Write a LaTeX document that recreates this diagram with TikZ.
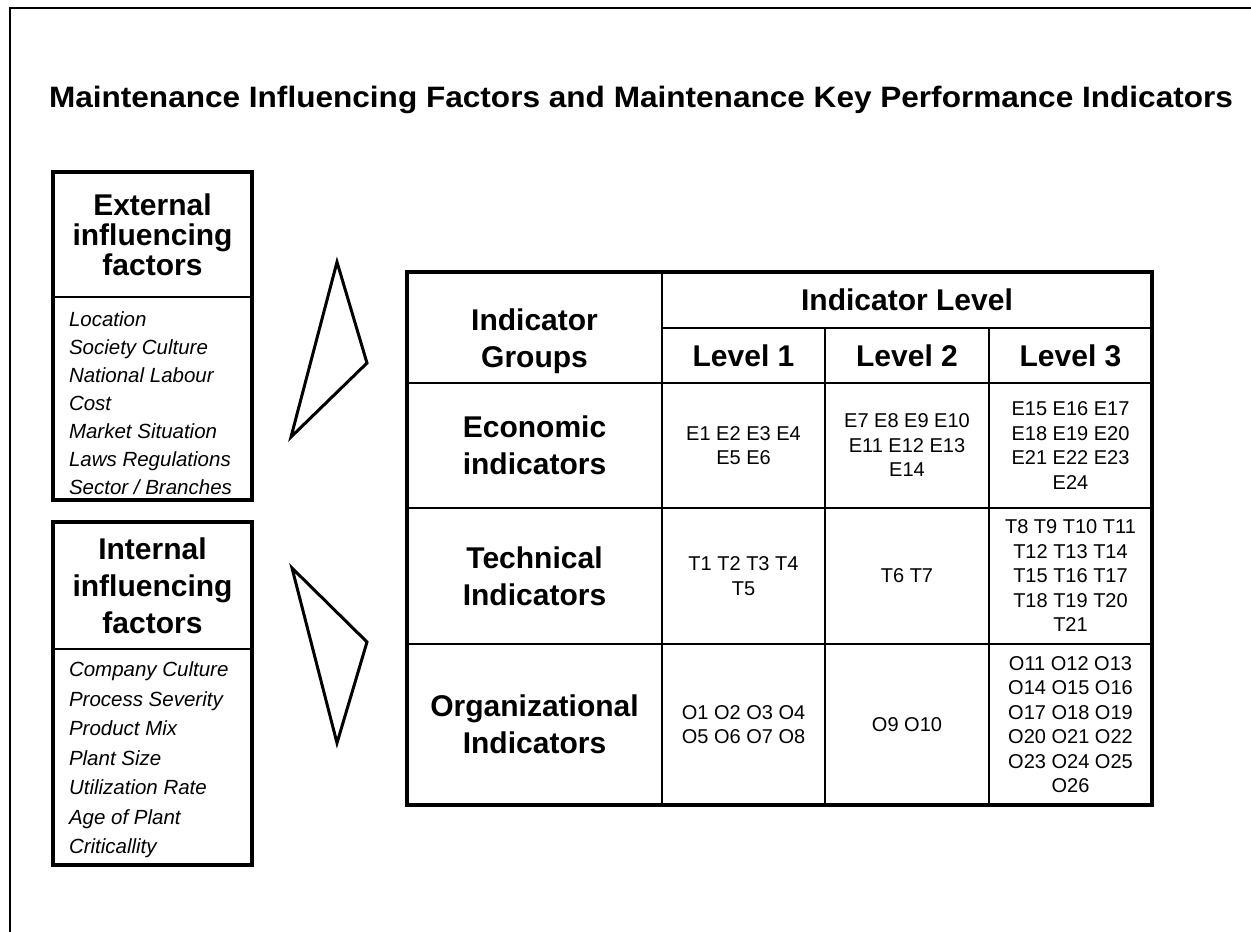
\documentclass[tikz,border=0pt]{standalone}
\usepackage{fontspec}
\setmainfont{Liberation Sans}
\usetikzlibrary{positioning}
\tikzset{every picture/.style={line width=2pt}}

\begin{document}
\begin{tikzpicture}[x=1pt, y=-1pt,
    cell/.style={draw, line width=1.8pt, inner sep=0pt, outer sep=0pt, align=center},
    bighead/.style={font=\bfseries\fontsize{30}{37}\selectfont},
    small/.style={font=\fontsize{20}{24.5}\selectfont},
    items/.style={inner sep=0pt, align=left}]
\useasboundingbox (0,0) rectangle (1251,932);

    % Frame and title
\draw[line width=1.5pt] (10,932) -- (10,8) -- (1251,8);
\node[anchor=base west, inner sep=0pt, font=\bfseries\fontsize{29.5}{30}\selectfont] (title) at (48,107) {\scalebox{1.07}[1]{Maintenance Influencing Factors and Maintenance Key Performance Indicators}};

    % External factors
\node[cell, anchor=north west, minimum width=199, minimum height=125, font=\bfseries\fontsize{30}{30}\selectfont] (exthead) at (53,172) {External\\influencing\\factors};
\node[items, anchor=north west, font=\itshape\fontsize{20.5}{28}\selectfont] (extlist) at (68,311) {Location\\Society Culture\\National Labour\\Cost\\Market Situation\\Laws Regulations\\Sector / Branches};
\coordinate (extend) at (252,500);
\draw[line width=4pt] (exthead.north west) rectangle (extend);

    % Internal factors
\node[cell, anchor=north west, minimum width=199, minimum height=127, bighead] (inthead) at (53,522) {Internal\\influencing\\factors};
\node[items, anchor=north west, font=\itshape\fontsize{20.5}{29.5}\selectfont] (intlist) at (68,661) {Company Culture\\Process Severity\\Product Mix\\Plant Size\\Utilization Rate\\Age of Plant\\Criticallity};
\coordinate (intend) at (252,865);
\draw[line width=4pt] (inthead.north west) rectangle (intend);

    % Triangles
\draw[line width=3pt, line join=miter] (337,262) -- (367,363) -- (291,437) -- cycle;
\draw[line width=3pt, line join=miter] (292,568) -- (367,642) -- (337,743) -- cycle;

    % Table header
\node[cell, anchor=north west, minimum width=255, minimum height=111] (groups) at (407,272) {};
\node[bighead, align=center, yshift=-14pt] (groupstext) at (groups.center) {Indicator\\Groups};
\node[cell, bighead, minimum width=490, minimum height=56, below right=0pt and 0pt of groups.north east] (level) {Indicator Level};
\node[cell, bighead, minimum width=163, minimum height=55, below right=0pt and 0pt of level.south west] (lv1) {Level 1};
\node[cell, bighead, minimum width=164, minimum height=55, right=0pt of lv1] (lv2) {Level 2};
\node[cell, bighead, minimum width=163, minimum height=55, right=0pt of lv2] (lv3) {Level 3};

    % Economic row
\node[cell, bighead, minimum width=255, minimum height=125, below=0pt of groups] (econ) {Economic\\indicators};
\node[cell, small, minimum width=163, minimum height=125, right=0pt of econ] (e1) {E1 E2 E3 E4\\E5 E6};
\node[cell, small, minimum width=164, minimum height=125, right=0pt of e1] (e2) {E7 E8 E9 E10\\E11 E12 E13\\E14};
\node[cell, small, minimum width=163, minimum height=125, right=0pt of e2] (e3) {E15 E16 E17\\E18 E19 E20\\E21 E22 E23\\E24};

    % Technical row
\node[cell, bighead, minimum width=255, minimum height=136, below=0pt of econ] (tech) {Technical\\Indicators};
\node[cell, small, minimum width=163, minimum height=136, right=0pt of tech] (t1) {T1 T2 T3 T4\\T5};
\node[cell, small, minimum width=164, minimum height=136, right=0pt of t1] (t2) {T6 T7};
\node[cell, small, minimum width=163, minimum height=136, right=0pt of t2] (t3) {T8 T9 T10 T11\\T12 T13 T14\\T15 T16 T17\\T18 T19 T20\\T21};

    % Organizational row
\node[cell, bighead, minimum width=255, minimum height=161, below=0pt of tech] (org) {Organizational\\Indicators};
\node[cell, small, minimum width=163, minimum height=161, right=0pt of org] (o1) {O1 O2 O3 O4\\O5 O6 O7 O8};
\node[cell, small, minimum width=164, minimum height=161, right=0pt of o1] (o2) {O9 O10};
\node[cell, small, minimum width=163, minimum height=161, right=0pt of o2] (o3) {O11 O12 O13\\O14 O15 O16\\O17 O18 O19\\O20 O21 O22\\O23 O24 O25\\O26};

    % Outer border of the table
\draw[line width=4pt] (groups.north west) rectangle (o3.south east);
\end{tikzpicture}
\end{document}
